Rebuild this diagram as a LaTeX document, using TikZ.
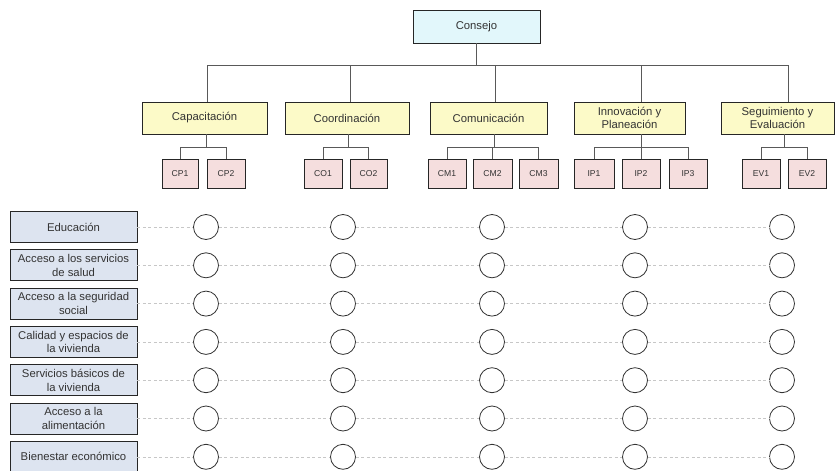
\documentclass[tikz,border=0pt]{standalone}
\usepackage{fontspec}
\setmainfont{Liberation Sans}
\definecolor{rowfill}{RGB}{221,228,240}
\definecolor{areafill}{RGB}{252,250,200}
\definecolor{subfill}{RGB}{245,222,222}
\definecolor{topfill}{RGB}{226,247,251}
\begin{document}
\begin{tikzpicture}[x=1pt,y=-1pt,
  box/.style={draw=black!85,line width=0.9pt,text=black!80,align=center,
    inner sep=1pt,font=\fontsize{11.3}{13.4}\selectfont},
  topbox/.style={box,fill=topfill,minimum width=127pt,minimum height=33pt},
  areabox/.style={box,fill=areafill,minimum height=32pt},
  subbox/.style={box,fill=subfill,minimum height=29pt,
    font=\fontsize{8.6}{10}\selectfont},
  rowbox/.style={box,fill=rowfill,minimum width=127pt,minimum height=31pt},
  dot/.style={draw=black!80,line width=0.8pt,circle,minimum size=25pt,inner sep=0pt},
  link/.style={draw=black!65,line width=0.8pt},
  guide/.style={draw=black!22,line width=0.5pt,dash pattern=on 3pt off 2.5pt}]
\useasboundingbox (0,0) rectangle (836,471);

% governing council
\node[topbox] (consejo) at (476.5,26.5) {Consejo};

% working areas
\node[areabox,minimum width=125pt] (cap) at (204.5,118) {Capacitación};
\node[areabox,minimum width=124pt] (coo) at (347,118) {Coordinación};
\node[areabox,minimum width=117pt] (com) at (488.5,118) {Comunicación};
\node[areabox,minimum width=111pt] (inn) at (629.5,118) {Innovación y\\Planeación};
\node[areabox,minimum width=113pt] (seg) at (777.5,118) {Seguimiento y\\Evaluación};

% sub-units
\node[subbox,minimum width=36pt] (cp1) at (180,173.5) {CP1};
\node[subbox,minimum width=38pt] (cp2) at (226,173.5) {CP2};
\node[subbox,minimum width=38pt] (co1) at (323,173.5) {CO1};
\node[subbox,minimum width=37pt] (co2) at (368.5,173.5) {CO2};
\node[subbox,minimum width=38pt] (cm1) at (447,173.5) {CM1};
\node[subbox,minimum width=39pt] (cm2) at (492.5,173.5) {CM2};
\node[subbox,minimum width=39pt] (cm3) at (538.5,173.5) {CM3};
\node[subbox,minimum width=40pt] (ip1) at (594,173.5) {IP1};
\node[subbox,minimum width=38pt] (ip2) at (641,173.5) {IP2};
\node[subbox,minimum width=38pt] (ip3) at (688,173.5) {IP3};
\node[subbox,minimum width=38pt] (ev1) at (761,173.5) {EV1};
\node[subbox,minimum width=38pt] (ev2) at (807,173.5) {EV2};

% bus from the council to the areas
\coordinate (busL) at (207,65);
\coordinate (busR) at (788,65);
\draw[link] (consejo.south) -- (consejo.south |- busL);
\draw[link] (busL) -- (busR);
\draw[link] (busL) -- (busL |- cap.north);
\draw[link] (350,65) -- (350,0 |- coo.north);
\draw[link] (495,65) -- (495,0 |- com.north);
\draw[link] (641,65) -- (641,0 |- inn.north);
\draw[link] (busR) -- (busR |- seg.north);

% area to sub-unit brackets
\foreach \p/\px/\a/\b/\mids in {cap/206/cp1/cp2/{},coo/348/co1/co2/{},
    com/494/cm1/cm3/{cm2},inn/641/ip1/ip3/{ip2},seg/784/ev1/ev2/{}}{
  \coordinate (j-\p) at (\px,147);
  \draw[link] (\p.south -| j-\p) -- (j-\p);
  \draw[link] (\a.north) -- (\a.north |- j-\p) -- (\b.north |- j-\p) -- (\b.north);
  \foreach \m in \mids {\draw[link] (\m.north |- j-\p) -- (\m.north);}
}

% dimension rows with their check circles
\foreach \i/\t in {0/{Educación},1/{Acceso a los servicios\\de salud},
    2/{Acceso a la seguridad\\social},3/{Calidad y espacios de\\la vivienda},
    4/{Servicios básicos de\\la vivienda},5/{Acceso a la\\alimentación},
    6/{Bienestar económico}}{
  \pgfmathsetmacro{\yy}{227+38.3*\i}
  \node[rowbox] (r\i) at (73.5,\yy) {\t};
  \node[dot] (c\i-1) at (206,\yy) {};
  \node[dot] (c\i-2) at (343,\yy) {};
  \node[dot] (c\i-3) at (492,\yy) {};
  \node[dot] (c\i-4) at (635,\yy) {};
  \node[dot] (c\i-5) at (782,\yy) {};
  \draw[guide] (r\i.east) -- (c\i-1.west);
  \draw[guide] (c\i-1.east) -- (c\i-2.west);
  \draw[guide] (c\i-2.east) -- (c\i-3.west);
  \draw[guide] (c\i-3.east) -- (c\i-4.west);
  \draw[guide] (c\i-4.east) -- (c\i-5.west);
}
\end{tikzpicture}
\end{document}
